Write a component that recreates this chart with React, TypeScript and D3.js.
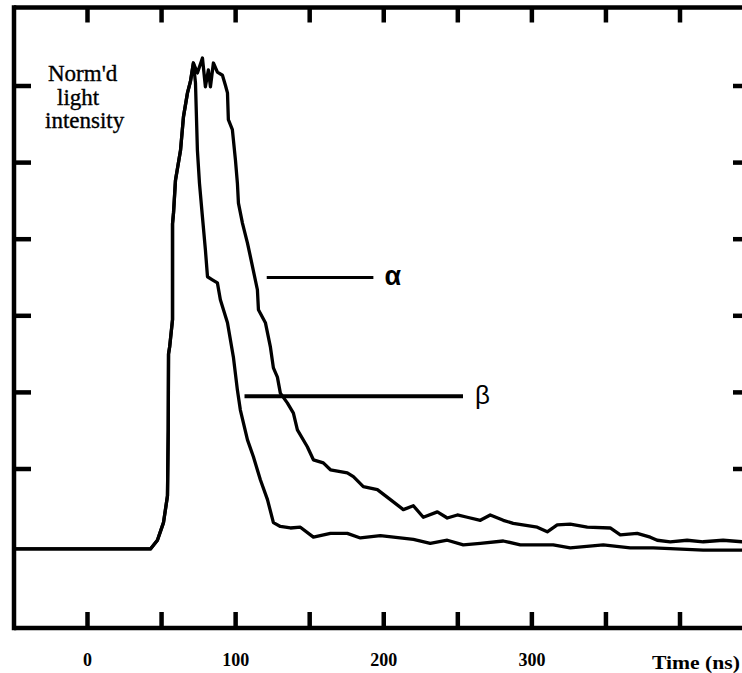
import React from "react";
import * as d3 from "d3";

// Time (ns) and normalised intensity (in tick units)
const riseT = [-50, 42.5, 47.2, 51.3, 54.0, 54.5, 54.7, 55.5, 57.4, 57.4, 58.1, 59.4, 62.8, 64.8, 67.5, 69.5, 71.5];
const riseV = [-0.044, -0.044, 0.07, 0.3, 0.65, 1.5, 2.5, 2.6, 2.95, 4.2, 4.35, 4.77, 5.16, 5.6, 5.91, 6.06, 6.3];

const betaT = [72.9, 74.2, 75.6, 77.6, 79.6, 81.0, 84.3, 87.7, 89.7, 94.5, 98.5, 101.2, 103.2, 108.0, 112.0, 116.7, 121.5, 125.5, 130.2, 137.0, 143.7, 152.5, 164.0, 175.4, 184.2, 197.7, 220.0, 231.4, 242.9, 253.7, 265.2, 280.7, 292.2, 314.4, 325.9, 348.2, 366.4, 381.9, 393.4, 415.7, 442];
const betaV = [6.04, 5.16, 4.73, 4.29, 3.86, 3.51, 3.47, 3.43, 3.21, 2.91, 2.46, 2.03, 1.77, 1.38, 1.16, 0.86, 0.6, 0.3, 0.25, 0.23, 0.24, 0.11, 0.16, 0.16, 0.1, 0.13, 0.08, 0.03, 0.07, 0.01, 0.03, 0.06, 0.01, 0.01, -0.03, 0.01, -0.03, -0.03, -0.04, -0.06, -0.06];

const alphaT = [74.2, 77.6, 79.6, 81.6, 83.0, 85.0, 87.7, 91.1, 93.1, 94.5, 95.1, 97.8, 99.9, 101.2, 101.9, 104.6, 108.0, 110.0, 114.7, 115.4, 120.1, 123.5, 125.5, 128.2, 130.2, 135.0, 139.0, 141.7, 148.4, 152.5, 159.2, 164.0, 175.4, 179.5, 186.2, 195.7, 204.5, 213.2, 220.0, 226.7, 236.2, 242.9, 249.7, 256.4, 265.2, 271.9, 280.7, 287.4, 303.6, 310.4, 317.1, 325.9, 337.4, 352.9, 359.7, 371.1, 379.9, 384.6, 393.4, 404.8, 415.7, 429.1, 442];
const alphaV = [6.17, 6.365, 5.99, 6.21, 5.99, 6.3, 6.18, 6.14, 6.01, 5.91, 5.56, 5.43, 5.03, 4.73, 4.47, 4.21, 3.95, 3.77, 3.34, 3.08, 2.91, 2.59, 2.32, 2.2, 1.99, 1.86, 1.73, 1.51, 1.29, 1.12, 1.08, 0.99, 0.95, 0.9, 0.77, 0.73, 0.6, 0.47, 0.52, 0.37, 0.44, 0.36, 0.4, 0.37, 0.33, 0.4, 0.33, 0.29, 0.24, 0.18, 0.27, 0.28, 0.24, 0.23, 0.14, 0.16, 0.11, 0.07, 0.05, 0.07, 0.05, 0.07, 0.05];

const xTicks = [0, 50, 100, 150, 200, 250, 300, 350, 400];
const xLabels = [0, 100, 200, 300];
const yTicks = [1, 2, 3, 4, 5, 6];
const yLabelLines = ["Norm'd", "light", "intensity"];
const xTitle = "Time (ns)";

const annotAlpha = { label: "α", t0: 121, t1: 193, v: 3.5 };
const annotBeta = { label: "β", t0: 106, t1: 253.5, v: 1.95 };

export default function App() {
  const W = 742, H = 673;
  const x = d3.scaleLinear().domain([0, 400]).range([87.5, 680]);
  const y = d3.scaleLinear().domain([0, 5]).range([545.6, 162.6]);
  const left = 14, top = 7.5, bottom = 628, right = W;

  const rise = riseT.map((t, i) => [t, riseV[i]] as [number, number]);
  const beta = rise.concat(betaT.map((t, i) => [t, betaV[i]] as [number, number]));
  const alpha = rise.concat(alphaT.map((t, i) => [t, alphaV[i]] as [number, number]));
  const line = d3.line<[number, number]>().x(d => x(d[0])).y(d => y(d[1]));

  const serif = "'Liberation Serif', 'Times New Roman', serif";
  const sans = "'Liberation Sans', Arial, sans-serif";

  return (
    <svg width={W} height={H} style={{ position: "absolute", left: 0, top: 0, background: "#fff" }}>
      <rect x={0} y={0} width={W} height={H} fill="#fff" />
      <line x1={left} x2={right} y1={top} y2={top} stroke="#000" strokeWidth={4.5} />
      <line x1={left} x2={right} y1={bottom} y2={bottom} stroke="#000" strokeWidth={4.5} />
      <line x1={left} x2={left} y1={top - 2.25} y2={bottom + 2.25} stroke="#000" strokeWidth={4.5} />
      {xTicks.map(t => (
        <g key={"xt" + t}>
          <line x1={x(t)} x2={x(t)} y1={top} y2={top + 15} stroke="#000" strokeWidth={4.5} />
          <line x1={x(t)} x2={x(t)} y1={bottom} y2={bottom - 16} stroke="#000" strokeWidth={4.5} />
        </g>
      ))}
      {yTicks.map(v => (
        <g key={"yt" + v}>
          <line x1={left} x2={left + 17} y1={y(v)} y2={y(v)} stroke="#000" strokeWidth={4.5} />
          <line x1={right - 9} x2={right} y1={y(v)} y2={y(v)} stroke="#000" strokeWidth={4.5} />
        </g>
      ))}
      {xLabels.map(t => (
        <text key={"xl" + t} x={x(t)} y={666} textAnchor="middle" fontFamily={serif} fontWeight="bold" fontSize={18}>{t}</text>
      ))}
      <text x={652} y={669} textLength={88} lengthAdjust="spacingAndGlyphs" fontFamily={serif} fontWeight="bold" fontSize={19}>{xTitle}</text>
      {yLabelLines.map((s, i) => (
        <text key={s} x={[48, 57, 45][i]} y={81 + i * 23.5} fontFamily={serif} fontSize={23} stroke="#000" strokeWidth={0.35}>{s}</text>
      ))}
      <path d={line(alpha) || ""} fill="none" stroke="#000" strokeWidth={3.3} strokeLinejoin="round" />
      <path d={line(beta) || ""} fill="none" stroke="#000" strokeWidth={3.3} strokeLinejoin="round" />
      <line x1={x(annotAlpha.t0)} x2={x(annotAlpha.t1)} y1={y(annotAlpha.v)} y2={y(annotAlpha.v)} stroke="#000" strokeWidth={3} />
      <text x={x(annotAlpha.t1) + 11} y={y(annotAlpha.v) + 7} fontFamily={sans} fontWeight="bold" fontSize={27}>{annotAlpha.label}</text>
      <line x1={x(annotBeta.t0)} x2={x(annotBeta.t1)} y1={y(annotBeta.v)} y2={y(annotBeta.v)} stroke="#000" strokeWidth={4} />
      <text x={x(annotBeta.t1) + 12} y={y(annotBeta.v) + 8} fontFamily={sans} fontSize={26}>{annotBeta.label}</text>
    </svg>
  );
}
